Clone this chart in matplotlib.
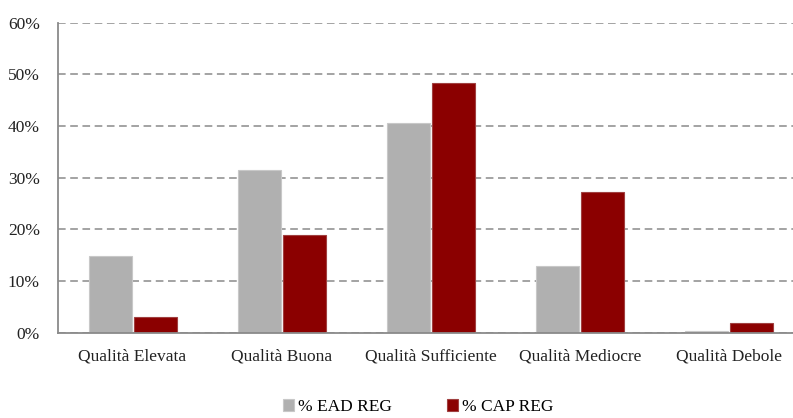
import numpy as np
import matplotlib.pyplot as plt
from matplotlib.ticker import PercentFormatter

categorie = ['Qualità Elevata', 'Qualità Buona', 'Qualità Sufficiente',
             'Qualità Mediocre', 'Qualità Debole']
ead_reg = [14.8, 31.4, 40.6, 12.9, 0.4]
cap_reg = [3.0, 18.9, 48.4, 27.3, 1.9]

plt.rcParams['font.family'] = ['Liberation Serif', 'DejaVu Serif']

fig = plt.figure(figsize=(7.93, 4.18), dpi=100)
ax = fig.add_axes([0.0731, 0.204, 0.9269, 0.7417])

x = np.arange(len(categorie))
w = 0.29
b1 = ax.bar(x - 0.148, ead_reg, w, color='#b0b0b0', edgecolor='#c8c8c8',
            linewidth=0.8, label='% EAD REG', zorder=3)
b2 = ax.bar(x + 0.152, cap_reg, w, color='#8b0000', edgecolor='#a04040',
            linewidth=0.8, label='% CAP REG', zorder=3)

ax.set_ylim(0, 60)
ax.set_xlim(-0.5, 4.43)
ax.set_yticks(range(0, 61, 10))
ax.yaxis.set_major_formatter(PercentFormatter(decimals=0))
ax.set_xticks(x)
ax.set_xticklabels(categorie)
ax.tick_params(axis='both', length=0, labelsize=12.5, colors='#222222')
ax.tick_params(axis='x', pad=11)
ax.tick_params(axis='y', pad=13)

ax.yaxis.grid(True, linestyle=(0, (5, 3)), color='#8a8a8a', linewidth=1.1, zorder=0)
ax.set_axisbelow(True)
for s in ['top', 'right']:
    ax.spines[s].set_visible(False)
for s in ['left', 'bottom']:
    ax.spines[s].set_color('#8a8a8a')
    ax.spines[s].set_linewidth(1.3)
    ax.spines[s].set_zorder(4)

fig.legend(handles=[b1, b2], loc='center', bbox_to_anchor=(0.527, 0.026),
           ncol=2, frameon=False, fontsize=12.5, handlelength=0.65, handleheight=0.65,
           handletextpad=0.2, columnspacing=3.2)

fig.savefig('out.png', dpi=100)
